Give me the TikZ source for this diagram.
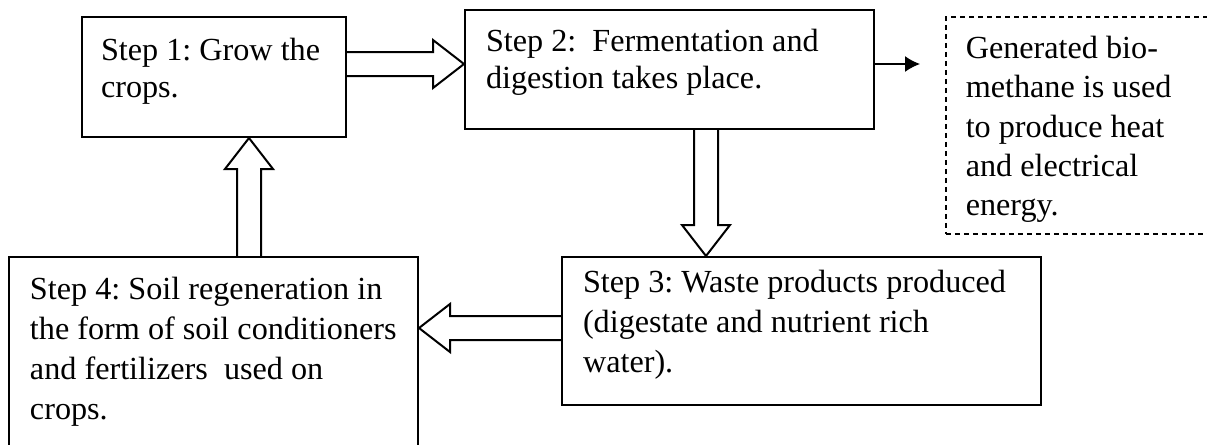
\documentclass[tikz,border=0pt]{standalone}
\usepackage{fontspec}
\setmainfont{Liberation Serif}
\usetikzlibrary{calc,arrows.meta}
\newcommand{\stepfont}[1]{\fontsize{16.1}{#1}\selectfont\frenchspacing}
\begin{document}
\begin{tikzpicture}[x=0.5pt,y=-0.5pt,line join=miter,>={Latex[length=7.5pt,width=8pt]}]
	\tikzset{box/.style={draw,line width=1pt,anchor=north west,align=flush left,
			inner ysep=0pt,inner xsep=10.5pt},
		hollow/.style={draw,line width=1pt,to path={
				let \p1=($(\tikztotarget)!15.5pt!(\tikztostart)$) in
				($(\tikztostart)!6pt!90:(\tikztotarget)$) -- ($(\p1)!6pt!-90:(\tikztostart)$)
				-- ($(\p1)!12pt!-90:(\tikztostart)$) -- (\tikztotarget)
				-- ($(\p1)!12pt!90:(\tikztostart)$) -- ($(\p1)!6pt!90:(\tikztostart)$)
				-- ($(\tikztostart)!6pt!-90:(\tikztotarget)$)}}}
	\useasboundingbox (0,0) rectangle (1207,445);
	%--------- Steps
	\node[box,inner xsep=9.5pt,text width=113pt,text height=21.5pt,text depth=38.5pt,
		font=\stepfont{18.75}] (b1) at (81,16) {Step 1: Grow the\\crops.};
	\node[box,text width=183.5pt,text height=20.5pt,text depth=39pt,
		font=\stepfont{18.5}] (b2) at (464,9) {Step 2:~ Fermentation and\\digestion takes place.};
	\node[box,text width=218.5pt,text height=17.5pt,text depth=56.5pt,
		font=\stepfont{20}] (b3) at (561,256) {Step 3: Waste products produced\\(digestate and nutrient rich\\water).};
	\node[box,text width=183.5pt,text height=21pt,text depth=81pt,
		font=\stepfont{20}] (b4) at (8,256) {Step 4: Soil regeneration in\\the form of soil conditioners\\and fertilizers~ used on\\crops.};
	\node[box,dashed,dash pattern=on 2.5pt off 2pt,line width=0.75pt,inner xsep=10pt,
		text width=137.5pt,text height=21pt,text depth=87.5pt,
		font=\stepfont{19.6}] (bm) at (945,16) {Generated bio-\\methane is used\\to produce heat\\and electrical\\energy.};
	%--------- Arrows
	\coordinate (h12s) at (b1.east |- 0,64);
	\coordinate (h12t) at (b2.west |- 0,64);
	\coordinate (h23s) at (b2.south -| 706,0);
	\coordinate (h23t) at (b3.north -| 706,0);
	\coordinate (h34s) at (b3.west |- 0,328);
	\coordinate (h34t) at (b4.east |- 0,328);
	\coordinate (h41s) at (b4.north -| 249,0);
	\coordinate (h41t) at (b1.south -| 249,0);
	\coordinate (gas) at (920,64);
	\draw[hollow] (h12s) to (h12t);
	\draw[hollow] (h23s) to (h23t);
	\draw[hollow] (h34s) to (h34t);
	\draw[hollow] (h41s) to (h41t);
	\draw[->,line width=0.75pt] (b2.east |- gas) -- (gas);
\end{tikzpicture}
\end{document}
